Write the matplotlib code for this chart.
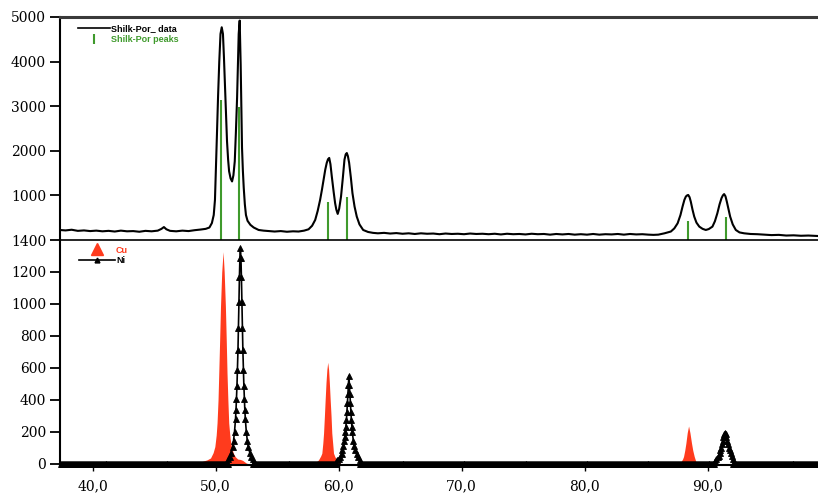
import numpy as np
import matplotlib
matplotlib.use("Agg")
import matplotlib.pyplot as plt
from matplotlib.lines import Line2D
from matplotlib.font_manager import FontProperties

# ---------------- data ----------------
# top panel: measured pattern "Shilk-Por_ data"
data_x = [37.3, 37.8, 38.3, 38.8, 39.3, 39.8, 40.3, 40.8, 41.3, 41.8, 42.3, 42.8, 43.3, 43.8,
          44.3, 44.8, 45.3, 45.6, 45.8, 46.0, 46.3, 46.8, 47.3, 47.8, 48.3, 48.8, 49.2, 49.5,
          49.7, 49.85, 49.95, 50.04, 50.12, 50.2, 50.3, 50.4, 50.5, 50.6, 50.68, 50.75, 50.85,
          50.93, 51.02, 51.1, 51.22, 51.34, 51.45, 51.56, 51.65, 51.75, 51.82, 51.88, 51.96,
          52.04, 52.1, 52.15, 52.22, 52.29, 52.38, 52.47, 52.6, 52.83, 53.1, 53.5, 53.9, 54.3,
          54.8, 55.3, 55.8, 56.3, 56.75, 57.2, 57.56, 57.85, 58.1, 58.3, 58.5, 58.65, 58.78,
          58.92, 59.04, 59.14, 59.24, 59.34, 59.45, 59.6, 59.72, 59.82, 59.93, 60.05, 60.2,
          60.35, 60.48, 60.58, 60.67, 60.76, 60.86, 61.0, 61.13, 61.3, 61.48, 61.7, 62.0, 62.4,
          62.8, 63.2, 63.7, 64.2, 64.7, 65.2, 65.7, 66.2, 66.7, 67.2, 67.7, 68.2, 68.7, 69.2,
          69.7, 70.2, 70.7, 71.2, 71.7, 72.2, 72.7, 73.2, 73.7, 74.2, 74.7, 75.2, 75.7, 76.2,
          76.7, 77.2, 77.7, 78.2, 78.7, 79.2, 79.7, 80.2, 80.7, 81.2, 81.7, 82.2, 82.7, 83.2,
          83.7, 84.2, 84.7, 85.2, 85.6, 86.0, 86.5, 87.02, 87.3, 87.57, 87.8, 87.97, 88.12,
          88.24, 88.34, 88.43, 88.54, 88.64, 88.78, 88.92, 89.1, 89.33, 89.6, 89.86, 90.1,
          90.4, 90.6, 90.8, 90.98, 91.14, 91.25, 91.35, 91.46, 91.57, 91.7, 91.84, 92.05,
          92.3, 92.6, 92.98, 93.5, 94.05, 94.6, 95.2, 95.8, 96.4, 97.0, 97.6, 98.2, 98.95]
data_y = [225, 215, 230, 205, 215, 200, 210, 195, 205, 190, 210, 195, 200, 185,
          205, 195, 210, 250, 290, 240, 205, 195, 210, 200, 220, 235, 250, 280,
          380, 560, 900, 1690, 2450, 3200, 4000, 4620, 4770, 4620, 4100, 3565, 2800,
          2215, 1800, 1540, 1380, 1313, 1450, 1765, 2400, 3200, 4000, 4620, 4920,
          3940, 2900, 2070, 1550, 1170, 800, 560, 430, 340, 280, 225, 210, 200,
          190, 200, 185, 195, 190, 210, 240, 320, 450, 650, 900, 1130, 1350,
          1580, 1730, 1810, 1840, 1700, 1425, 1080, 825, 680, 585, 700, 975,
          1400, 1800, 1920, 1950, 1880, 1730, 1400, 1050, 750, 525, 350, 225, 180,
          160, 150, 160, 145, 155, 140, 150, 135, 150, 140, 145, 130, 145, 135,
          140, 130, 145, 135, 140, 130, 140, 125, 140, 130, 135, 125, 140, 130,
          135, 120, 135, 125, 135, 120, 130, 120, 135, 120, 130, 125, 135, 120,
          135, 125, 130, 120, 115, 120, 150, 190, 260, 375, 560, 750, 900,
          975, 1000, 1010, 960, 860, 680, 525, 390, 300, 250, 225, 245,
          300, 420, 600, 800, 940, 1000, 1030, 980, 860, 700, 525, 350,
          225, 170, 150, 135, 130, 120, 110, 115, 100, 105, 95, 100, 90]

# top panel: reference peaks "Shilk-Por peaks"
peak_x = [50.45, 51.92, 59.18, 60.67, 88.38, 91.48]
peak_y = [3130, 2980, 860, 960, 435, 510]

# bottom panel: Cu (filled) pattern
cu_x = [48.5, 48.9, 49.3, 49.59, 49.8, 49.94, 50.05, 50.12, 50.2, 50.26, 50.33, 50.40, 50.50,
        50.61, 50.70, 50.80, 50.87, 50.93, 51.0, 51.07, 51.18, 51.29, 51.45, 51.61, 51.8,
        52.0, 52.2, 52.5, 52.7,
        58.0, 58.37, 58.55, 58.64, 58.72, 58.78, 58.85, 58.91, 58.98, 59.05, 59.12, 59.19,
        59.25, 59.32, 59.39, 59.45, 59.52, 59.59, 59.7, 59.86, 60.2,
        87.6, 87.85, 87.97, 88.05, 88.15, 88.24, 88.35, 88.46, 88.57, 88.7, 88.8, 88.92,
        89.05, 89.3]
cu_y = [0, 15, 25, 37, 70, 108, 180, 256, 400, 569, 770, 983, 1200,
        1327, 1200, 983, 770, 569, 400, 256, 160, 108, 65, 44, 30,
        28, 22, 5, 0,
        0, 25, 50, 67, 130, 192, 300, 400, 510, 590, 635, 590,
        510, 400, 300, 192, 130, 67, 45, 25, 0,
        0, 15, 30, 46, 85, 129, 195, 237, 195, 129, 85, 46,
        15, 0]

# bottom panel: Ni pattern (line with triangle markers), peak regions
ni_peak_x = [51.02, 51.14, 51.26, 51.38, 51.46, 51.54, 51.62, 51.66, 51.70, 51.74, 51.78,
             51.82, 51.86, 51.90, 51.94, 51.98, 52.02, 52.06, 52.10, 52.14, 52.18, 52.22,
             52.26, 52.30, 52.34, 52.38, 52.42, 52.50, 52.58, 52.66, 52.78, 52.90, 53.02,
             59.85, 60.0, 60.12, 60.24, 60.32, 60.40, 60.48, 60.52, 60.56, 60.60, 60.64,
             60.68, 60.72, 60.76, 60.80, 60.84, 60.88, 60.92, 60.96, 61.00, 61.04, 61.08,
             61.12, 61.20, 61.28, 61.36, 61.48, 61.60, 61.75,
             90.6, 90.73, 90.83, 90.91, 90.99, 91.05, 91.11, 91.17, 91.23, 91.29, 91.35,
             91.41, 91.47, 91.53, 91.59, 91.65, 91.71, 91.79, 91.87, 91.97, 92.1]
ni_peak_y = [30, 45, 70, 105, 145, 200, 280, 335, 405, 490, 590,
             710, 850, 1010, 1170, 1290, 1348, 1290, 1170, 1010, 850, 710,
             590, 490, 405, 335, 280, 200, 145, 105, 70, 45, 30,
             25, 33, 45, 61, 85, 110, 145, 170, 198, 233, 275,
             324, 380, 440, 495, 550, 495, 440, 380, 324, 275, 233,
             198, 145, 110, 85, 61, 45, 25,
             20, 28, 40, 52, 66, 84, 101, 122, 145, 168, 185,
             192, 185, 168, 145, 122, 101, 84, 66, 52, 28]
ni_base_spans = [(37.45, 51.0), (53.05, 59.84), (61.76, 90.59), (92.11, 98.95)]

x_ticks = [40, 50, 60, 70, 80, 90]
x_labels = ["40,0", "50,0", "60,0", "70,0", "80,0", "90,0"]
top_yticks = [1000, 2000, 3000, 4000, 5000]
bot_yticks = [0, 200, 400, 600, 800, 1000, 1200, 1400]

# ---------------- figure ----------------
W, H = 818, 494
fig = plt.figure(figsize=(W / 100, H / 100), dpi=100)
left = 60 / W
right = 0.9995
ax1 = fig.add_axes([left, 1 - 240 / H, right - left, (240 - 17) / H])
ax2 = fig.add_axes([left, 1 - 465 / H, right - left, (465 - 240) / H])

tick_font = FontProperties(family="DejaVu Serif", size=10)
leg_font = FontProperties(family=["Liberation Sans Narrow", "Liberation Sans"], weight="bold", size=6.5)

red = "#ff3b1d"
green = "#3f9a2c"

# top panel
ax1.plot(data_x, data_y, color="black", lw=1.5, zorder=3)
ax1.vlines(peak_x, 0, peak_y, color=green, lw=1.5, zorder=2)
ax1.set_xlim(37.35, 98.95)
ax1.set_ylim(0, 5000)
ax1.set_yticks(top_yticks)
ax1.set_yticklabels([str(v) for v in top_yticks], fontproperties=tick_font)
ax1.set_xticks([])
for s in ["right", "bottom"]:
    ax1.spines[s].set_visible(False)
ax1.spines["top"].set_linewidth(2.2)
ax1.spines["top"].set_color("#3a3a3a")
ax1.spines["left"].set_linewidth(1.5)
ax1.tick_params(axis="y", direction="out", length=7.5, width=1.3, pad=2.5)

h1 = [Line2D([], [], color="black", lw=1.2),
      Line2D([], [], color=green, marker="|", ls="none", markersize=7, markeredgewidth=1.5)]
leg1 = ax1.legend(h1, ["Shilk-Por_ data", "Shilk-Por peaks"], loc="upper left",
                  bbox_to_anchor=(0.0237, 0.969), frameon=False, prop=leg_font,
                  handlelength=3.55, handletextpad=0.1, borderpad=0, borderaxespad=0,
                  labelspacing=0.2)
leg1.get_texts()[1].set_color(green)

# bottom panel
ni_x = []
ni_y = []
for a, b in ni_base_spans:
    xs = np.arange(a, b, 0.08)
    ni_x.extend(xs.tolist())
    ni_y.extend([0.0] * len(xs))
ni_x.extend(ni_peak_x)
ni_y.extend(ni_peak_y)
order = np.argsort(ni_x)
ni_x = np.asarray(ni_x)[order]
ni_y = np.asarray(ni_y)[order]

ax2.fill_between(cu_x, 0, cu_y, color=red, lw=0, zorder=2)
ax2.plot(ni_x, ni_y, color="black", lw=1.2, marker="^", markersize=4.8,
         markeredgewidth=0.6, zorder=3, clip_on=False)
ax2.set_xlim(37.35, 98.95)
ax2.set_ylim(-7, 1400)
ax2.set_yticks(bot_yticks)
ax2.set_yticklabels([str(v) for v in bot_yticks], fontproperties=tick_font)
ax2.set_xticks(x_ticks)
ax2.set_xticklabels(x_labels, fontproperties=tick_font)
ax2.spines["right"].set_visible(False)
ax2.spines["top"].set_linewidth(1.2)
ax2.spines["left"].set_linewidth(1.5)
ax2.spines["bottom"].set_linewidth(1.5)
ax2.tick_params(axis="y", direction="out", length=7.5, width=1.3, pad=2.5)
ax2.tick_params(axis="x", direction="out", length=4, width=1.0, pad=6)

h2 = [Line2D([], [], color=red, marker="^", ls="none", markersize=8),
      Line2D([], [], color="black", lw=1.2, marker="^", markersize=3.5)]
leg2 = ax2.legend(h2, ["Cu", "Ni"], loc="upper left",
                  bbox_to_anchor=(0.025, 0.975), frameon=False, prop=leg_font,
                  handlelength=4.0, handletextpad=0.1, borderpad=0, borderaxespad=0,
                  labelspacing=0.2)
leg2.get_texts()[0].set_color(red)

fig.savefig("out.png", dpi=100)
